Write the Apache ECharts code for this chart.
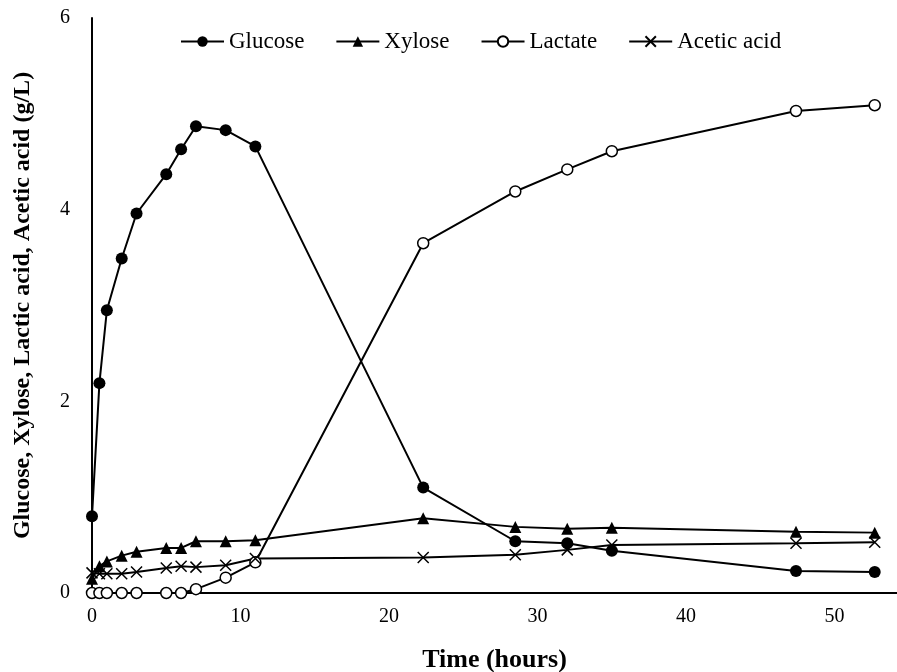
<!DOCTYPE html>
<html>
<head>
<meta charset="utf-8">
<script src="https://cdn.jsdelivr.net/npm/echarts@6/dist/echarts.min.js"></script>
<style>
  html, body { margin: 0; padding: 0; background: #fff; }
  #chart { width: 897px; height: 672px; }
</style>
</head>
<body>
<div id="chart"></div>
<script>
// sampling times (hours)
const time = [0, 0.5, 1, 2, 3, 5, 6, 7, 9, 11, 22.3, 28.5, 32, 35, 47.4, 52.7];

// concentrations (g/L)
const glucose = [0.80, 2.19, 2.95, 3.49, 3.96, 4.37, 4.63, 4.87, 4.83, 4.66, 1.10, 0.54, 0.52, 0.44, 0.23, 0.22];
const xylose = [0.15, 0.28, 0.33, 0.39, 0.43, 0.47, 0.47, 0.54, 0.54, 0.55, 0.78, 0.69, 0.67, 0.68, 0.64, 0.63];
const lactate = [0, 0, 0, 0, 0, 0, 0, 0.04, 0.16, 0.32, 3.65, 4.19, 4.42, 4.61, 5.03, 5.09];
const acetic = [0.21, 0.20, 0.20, 0.20, 0.22, 0.26, 0.28, 0.27, 0.29, 0.36, 0.37, 0.40, 0.45, 0.50, 0.52, 0.53];

const seriesNames = ["Glucose", "Xylose", "Lactate", "Acetic acid"];
const xTicks = [0, 10, 20, 30, 40, 50];
const yTicks = [0, 2, 4, 6];

const font = "'Liberation Serif', 'Times New Roman', serif";
const pairs = (ys) => time.map((t, i) => [t, ys[i]]);

const baseSeries = {
    type: "line",
    clip: false,
    lineStyle: { color: "#000", width: 2 },
    emphasis: { disabled: true },
};

const chart = echarts.init(document.getElementById("chart"));
chart.setOption({
    animation: false,
    backgroundColor: "#fff",
    textStyle: { fontFamily: font, color: "#000" },
    grid: { left: 92, right: 0, top: 18, bottom: 79, outerBoundsMode: "none", containLabel: false },
    legend: {
        data: seriesNames,
        left: 175,
        top: 25,
        itemWidth: 43,
        itemHeight: 13,
        itemGap: 31,
        textStyle: { fontFamily: font, fontSize: 23, color: "#000" },
    },
    xAxis: {
        type: "value",
        min: 0,
        max: 54.2,
        interval: 10,
        name: "Time (hours)",
        nameLocation: "middle",
        nameGap: 54,
        nameTextStyle: { fontFamily: font, fontSize: 26, fontWeight: "bold", color: "#000" },
        axisLine: { lineStyle: { color: "#000", width: 2 } },
        axisTick: { show: false },
        splitLine: { show: false },
        axisLabel: {
            fontFamily: font,
            fontSize: 20,
            color: "#000",
            margin: 14,
            formatter: (v) => (xTicks.includes(v) ? String(v) : ""),
        },
    },
    yAxis: {
        type: "value",
        min: 0,
        max: 6,
        interval: 2,
        name: "Glucose, Xylose, Lactic acid, Acetic acid (g/L)",
        nameLocation: "middle",
        nameGap: 57,
        nameTextStyle: { fontFamily: font, fontSize: 24, fontWeight: "bold", color: "#000" },
        axisLine: { show: true, lineStyle: { color: "#000", width: 2 } },
        axisTick: { show: false },
        splitLine: { show: false },
        axisLabel: {
            fontFamily: font,
            fontSize: 20,
            color: "#000",
            margin: 22,
            formatter: (v) => (yTicks.includes(v) ? String(v) : ""),
        },
    },
    series: [
        {
            ...baseSeries,
            name: seriesNames[0],
            data: pairs(glucose),
            symbol: "circle",
            symbolSize: 12,
            itemStyle: { color: "#000" },
        },
        {
            ...baseSeries,
            name: seriesNames[1],
            data: pairs(xylose),
            symbol: "triangle",
            symbolSize: 12,
            itemStyle: { color: "#000" },
        },
        {
            ...baseSeries,
            name: seriesNames[2],
            data: pairs(lactate),
            symbol: "circle",
            symbolSize: 11,
            itemStyle: { color: "#fff", borderColor: "#000", borderWidth: 1.5 },
        },
        {
            ...baseSeries,
            name: seriesNames[3],
            data: pairs(acetic),
            symbol: "path://M0,0L10,10M10,0L0,10",
            symbolSize: 11,
            itemStyle: { color: "#fff", borderColor: "#000", borderWidth: 1.5 },
        },
    ],
});
</script>
</body>
</html>
